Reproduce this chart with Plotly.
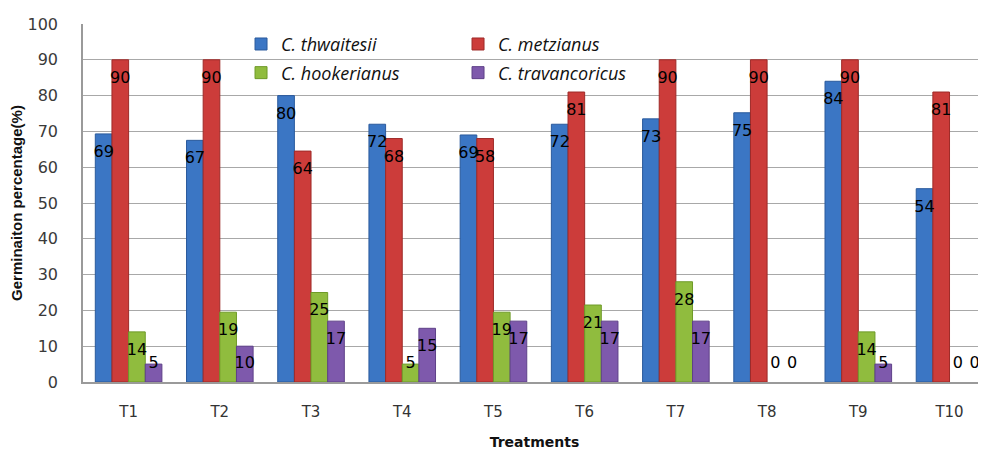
import plotly.graph_objects as go

categories = ["T1", "T2", "T3", "T4", "T5", "T6", "T7", "T8", "T9", "T10"]
series_names = ["C. thwaitesii", "C. metzianus", "C. hookerianus", "C. travancoricus"]

thwaitesii = [69.3, 67.5, 80, 72, 69, 72, 73.5, 75.2, 84, 54]
metzianus = [90, 90, 64.5, 68, 68, 81, 90, 90, 90, 81]
hookerianus = [14, 19.5, 25, 5, 19.5, 21.5, 28, 0, 14, 0]
travancoricus = [5, 10, 17, 15, 17, 17, 17, 0, 5, 0]

thwaitesii_labels = ["69", "67", "80", "72", "69", "72", "73", "75", "84", "54"]
metzianus_labels = ["90", "90", "64", "68", "58", "81", "90", "90", "90", "81"]
hookerianus_labels = ["14", "19", "25", "5", "19", "21", "28", "0", "14", "0"]
travancoricus_labels = ["5", "10", "17", "15", "17", "17", "17", "0", "5", "0"]

y_ticks = [0, 10, 20, 30, 40, 50, 60, 70, 80, 90, 100]

colors = ["#3B76C4", "#CC3C3A", "#90BC3E", "#7E59AC"]
edge_colors = ["#2A5A9C", "#9E2A28", "#6E9A28", "#5E4088"]

values = [thwaitesii, metzianus, hookerianus, travancoricus]
labels = [thwaitesii_labels, metzianus_labels, hookerianus_labels, travancoricus_labels]
legends = ["legend", "legend", "legend2", "legend2"]

BARGAP = 0.27

fig = go.Figure()
for i in range(4):
    fig.add_trace(go.Bar(
        x=categories, y=values[i], name=series_names[i],
        marker=dict(color=colors[i],
                    line=dict(color=edge_colors[i], width=[1 if v > 0 else 0 for v in values[i]])),
        legend=legends[i], offsetgroup=str(i), alignmentgroup="a",
    ))

# data labels, grouped the same way as the bars
for i in range(4):
    ypos = [max(v - 5.3, 5) for v in values[i]]
    fig.add_trace(go.Scatter(
        x=categories, y=ypos, text=labels[i], mode="text",
        textfont=dict(family="DejaVu Sans", size=16, color="#000000"),
        showlegend=False, hoverinfo="skip", offsetgroup=str(i), alignmentgroup="a",
        cliponaxis=False,
    ))

legend_font = dict(family="Open Sans", size=18, style="italic", color="#111111")

# the page body adds an 8px margin, so the figure is sized 8px smaller
fig.update_layout(
    width=978, height=442,
    margin=dict(l=75, r=0, t=16, b=68, autoexpand=False),
    paper_bgcolor="white", plot_bgcolor="white",
    barmode="group", bargap=BARGAP, bargroupgap=0,
    scattermode="group", scattergap=BARGAP,
    font=dict(family="DejaVu Sans", color="#333333"),
    legend=dict(
        orientation="h", x=0.175, y=0.995, xanchor="left", yanchor="top",
        entrywidth=172, entrywidthmode="pixels", bgcolor="rgba(0,0,0,0)",
        font=legend_font, itemwidth=30, tracegroupgap=0,
    ),
    legend2=dict(
        orientation="h", x=0.175, y=0.915, xanchor="left", yanchor="top",
        entrywidth=172, entrywidthmode="pixels", bgcolor="rgba(0,0,0,0)",
        font=legend_font, itemwidth=30, tracegroupgap=0,
    ),
    xaxis=dict(
        range=[-0.5, 9.4], showgrid=False, showline=True, linecolor="#9A9A9A", linewidth=1.5,
        ticks="", tickfont=dict(family="DejaVu Sans", size=15, color="#333333"),
        ticklabelstandoff=15, automargin=False,
        title=dict(text="<b>Treatments</b>", font=dict(family="DejaVu Sans", size=14, color="#111111"),
                   standoff=19),
    ),
    yaxis=dict(
        range=[0, 100], tickvals=y_ticks, showgrid=True, gridcolor="#A8A8A8", gridwidth=1,
        showline=True, linecolor="#9A9A9A", linewidth=1.5, zeroline=False,
        ticks="", tickfont=dict(family="DejaVu Sans", size=16, color="#3A3A3A"),
        ticklabelstandoff=20, automargin=False,
        title=dict(text="<b>Germinaiton percentage(%)</b>",
                   font=dict(family="Liberation Sans", size=15, color="#111111"), standoff=4),
    ),
)

fig.write_html("out.html")
